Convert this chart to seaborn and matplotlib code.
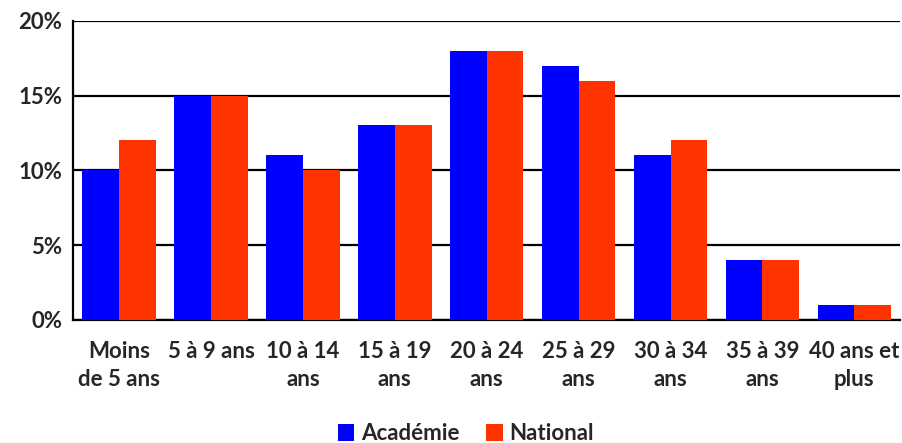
import pandas as pd
import seaborn as sns
import matplotlib.pyplot as plt

# Données
tranches = ["Moins\nde 5 ans", "5 à 9 ans", "10 à 14\nans", "15 à 19\nans", "20 à 24\nans",
            "25 à 29\nans", "30 à 34\nans", "35 à 39\nans", "40 ans et\nplus"]
academie = [10, 15, 11, 13, 18, 17, 11, 4, 1]
national = [12, 15, 10, 13, 18, 16, 12, 4, 1]
series = ["Académie", "National"]
yticks = [0, 5, 10, 15, 20]

df = pd.DataFrame({
    "tranche": tranches * 2,
    "valeur": academie + national,
    "serie": [series[0]] * len(tranches) + [series[1]] * len(tranches),
})

sns.set_style("white")
plt.rcParams["font.family"] = ["Lato", "DejaVu Sans"]
plt.rcParams["font.weight"] = "bold"

fig = plt.figure(figsize=(9.03, 4.43), dpi=100)
ax = fig.add_axes([0.081, 0.278, 0.916, 0.675])
sns.barplot(data=df, x="tranche", y="valeur", hue="serie",
            palette=["#0000FF", "#FF3300"], width=0.8, saturation=1,
            linewidth=0, ax=ax, zorder=3)

ax.set_ylim(0, 20)
ax.set_yticks(yticks)
ax.set_yticklabels([f"{v}%" for v in yticks])
ax.yaxis.grid(True, color="black", linewidth=1.6, zorder=0)
ax.set_axisbelow(True)
ax.set_xlabel("")
ax.set_ylabel("")
ax.tick_params(axis="both", length=0, labelsize=16)
ax.tick_params(axis="y", pad=8)
ax.tick_params(axis="x", pad=15)
for lab in ax.get_xticklabels() + ax.get_yticklabels():
    lab.set_fontweight("bold")
for lab in ax.get_xticklabels():
    lab.set_linespacing(1.45)

for s in ["top", "right"]:
    ax.spines[s].set_visible(False)
for s in ["left", "bottom"]:
    ax.spines[s].set_color("black")
    ax.spines[s].set_linewidth(1.6)

handles, labels = ax.get_legend_handles_labels()
ax.get_legend().remove()
fig.legend(handles, labels, loc="lower center", bbox_to_anchor=(0.516, -0.048),
           ncol=2, frameon=False, prop={"size": 16, "weight": "bold"},
           handlelength=0.75, handleheight=0.75, handletextpad=0.3, columnspacing=1.2)

fig.savefig("out.png", dpi=100)
